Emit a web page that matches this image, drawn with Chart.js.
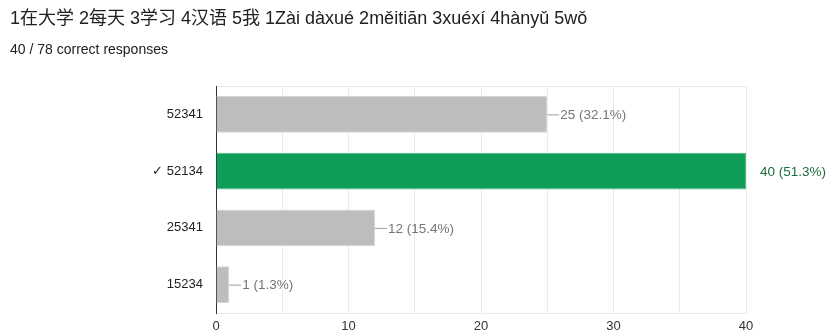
<!DOCTYPE html>
<html>
<head>
<meta charset="utf-8">
<script src="https://cdn.jsdelivr.net/npm/chart.js@4"></script>
<style>
  body { margin: 0; background: #fff; }
  #wrap { position: relative; width: 826px; height: 336px; }
  .title { position: absolute; left: 10px; top: 7px; font: 18px/22px "Liberation Sans", Arial, "Noto Sans CJK SC", sans-serif; color: #202124; white-space: nowrap; }
  .sub { position: absolute; left: 10px; top: 41px; font: 14px/16px "Liberation Sans", Arial, sans-serif; color: #202124; }
</style>
</head>
<body>
<div id="wrap">
  <div class="title">1在大学 2每天 3学习 4汉语 5我 1Zài dàxué 2měitiān 3xuéxí 4hànyǔ 5wǒ</div>
  <div class="sub">40 / 78 correct responses</div>
  <canvas id="answersChart"></canvas>
</div>
<script>
  // answer options and how many picked each
  const answers = ['52341', '✓ 52134', '25341', '15234'];
  const counts = [25, 40, 12, 1];
  const isCorrect = [false, true, false, false];
  const totalResponses = 78;
  const xTicks = [0, 10, 20, 30, 40];

  const GREY = '#bdbdbd';
  const GREEN = '#0f9d58';
  const FONT = '"Liberation Sans", Arial, sans-serif';

  // value labels with a short leader line, like the forms summary
  const valueLabels = {
    id: 'valueLabels',
    afterDatasetsDraw(chart) {
      const ctx = chart.ctx;
      const meta = chart.getDatasetMeta(0);
      ctx.save();
      ctx.font = '13.5px ' + FONT;
      ctx.textBaseline = 'middle';
      meta.data.forEach(function(bar, i) {
        const pct = (counts[i] / totalResponses * 100).toFixed(1);
        const text = counts[i] + ' (' + pct + '%)';
        if (isCorrect[i]) {
          ctx.fillStyle = '#1e6b3c';
          ctx.fillText(text, bar.x + 14, bar.y + 1);
        } else {
          ctx.strokeStyle = '#9e9e9e';
          ctx.lineWidth = 1;
          ctx.beginPath();
          ctx.moveTo(bar.x, bar.y + 0.5);
          ctx.lineTo(bar.x + 12, bar.y + 0.5);
          ctx.stroke();
          ctx.fillStyle = '#757575';
          ctx.fillText(text, bar.x + 13, bar.y + 1);
        }
      });
      ctx.restore();
    }
  };

  new Chart(document.getElementById('answersChart'), {
    type: 'bar',
    data: {
      labels: answers,
      datasets: [{
        data: counts,
        backgroundColor: isCorrect.map(c => c ? GREEN : GREY),
        borderColor: isCorrect.map(c => c ? '#57b983' : '#d6d6d6'),
        borderWidth: 1,
        borderSkipped: 'left',
        categoryPercentage: 1,
        barPercentage: 0.65
      }]
    },
    options: {
      indexAxis: 'y',
      responsive: true,
      maintainAspectRatio: false,
      animation: false,
      layout: { padding: { top: 86, right: 80, bottom: 0, left: 0 } },
      plugins: {
        legend: { display: false },
        tooltip: { enabled: false }
      },
      scales: {
        x: {
          min: 0,
          max: 40,
          afterFit(scale) { scale.height = 23; },
          ticks: {
            stepSize: 5,
            padding: 6,
            color: '#333',
            font: { family: FONT, size: 13 },
            callback: v => xTicks.includes(v) ? String(v) : ''
          },
          grid: {
            drawTicks: false,
            color: ctx => ctx.tick && ctx.tick.value === 0 ? '#333' : '#ebebeb'
          },
          border: { color: '#ebebeb' }
        },
        y: {
          afterFit(scale) { scale.width = 216; },
          ticks: {
            padding: 13,
            color: '#222',
            font: { family: FONT, size: 13 }
          },
          grid: {
            drawTicks: false,
            color: ctx => (ctx.index === 0 || ctx.index === answers.length) ? '#ebebeb' : 'rgba(0,0,0,0)'
          },
          border: { color: '#333', width: 1 }
        }
      }
    },
    plugins: [valueLabels]
  });
</script>
</body>
</html>
